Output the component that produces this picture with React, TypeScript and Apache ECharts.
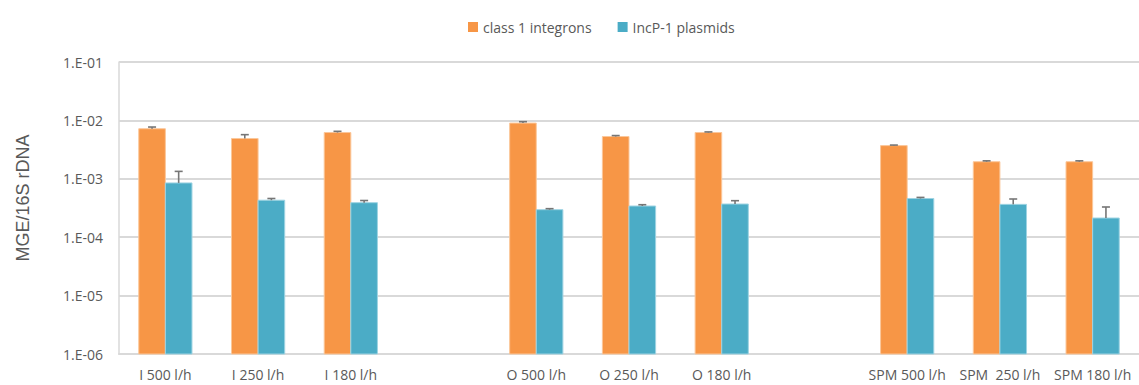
import React, { useEffect, useRef } from "react";
import * as echarts from "echarts";

const categories = ["I 500 l/h", "I 250 l/h", "I 180 l/h", "", "O 500 l/h", "O 250 l/h", "O 180 l/h", "", "SPM 500 l/h", "SPM  250 l/h", "SPM 180 l/h"];
const integrons: (number | null)[] = [7.2e-3, 4.9e-3, 6.2e-3, null, 9.0e-3, 5.3e-3, 6.2e-3, null, 3.7e-3, 1.96e-3, 1.96e-3];
const integronsErr: (number | null)[] = [0.5e-3, 0.8e-3, 0.3e-3, null, 0.5e-3, 0.2e-3, 0.15e-3, null, 0.08e-3, 0.07e-3, 0.07e-3];
const plasmids: (number | null)[] = [8.5e-4, 4.3e-4, 3.9e-4, null, 2.96e-4, 3.42e-4, 3.7e-4, null, 4.6e-4, 3.65e-4, 2.13e-4];
const plasmidsErr: (number | null)[] = [4.9e-4, 0.3e-4, 0.35e-4, null, 0.12e-4, 0.18e-4, 0.52e-4, null, 0.2e-4, 0.86e-4, 1.16e-4];

const seriesNames = ["class 1 integrons", "IncP-1 plasmids"];
const colors = ["#F79646", "#4BACC6"];
const borderColors = ["#FBC79A", "#9ED3E2"];
const CAT_GAP = 0.426;

function pts(vals: (number | null)[], errs: (number | null)[]) {
  const out: number[][] = [];
  vals.forEach((v, i) => {
    if (v != null) out.push([i, v, errs[i] == null ? 0 : (errs[i] as number)]);
  });
  return out;
}

function geom(params: any, api: any, sign: number) {
  const idx = api.value(0);
  const v = api.value(1);
  const cs = params.coordSys;
  const band = cs.width / categories.length;
  const bw = (band * (1 - CAT_GAP)) / 2;
  const p0 = api.coord([idx, v]);
  return { idx, v, cs, bw, p0, cx: p0[0] + (sign * bw) / 2 };
}

function makeBarRender(sign: number, k: number) {
  return (params: any, api: any) => {
    const g = geom(params, api, sign);
    const bottom = g.cs.y + g.cs.height;
    return {
      type: "rect",
      shape: { x: g.cx - g.bw / 2, y: g.p0[1], width: g.bw, height: bottom - g.p0[1] },
      style: { fill: colors[k], stroke: borderColors[k], lineWidth: 1 },
    };
  };
}

function makeErrRender(sign: number) {
  return (params: any, api: any) => {
    const g = geom(params, api, sign);
    const e = api.value(2);
    const p1 = api.coord([g.idx, g.v + e]);
    const x = g.cx;
    const style = { stroke: "#767676", lineWidth: 1.6 };
    return {
      type: "group",
      children: [
        { type: "line", shape: { x1: x, y1: g.p0[1], x2: x, y2: p1[1] }, style },
        { type: "line", shape: { x1: x - 4, y1: p1[1], x2: x + 4, y2: p1[1] }, style },
      ],
    };
  };
}

export default function App() {
  const ref = useRef<HTMLDivElement>(null);
  useEffect(() => {
    document.body.style.margin = "0";
    const chart = echarts.init(ref.current!, null, { renderer: "svg" });
    const font = "'Open Sans', 'Noto Sans', sans-serif";
    chart.setOption({
      animation: false,
      textStyle: { fontFamily: font },
      legend: {
        data: seriesNames.map((n) => ({ name: n, icon: "rect" })),
        left: 463,
        top: 15,
        itemWidth: 10,
        itemHeight: 10,
        itemGap: 26,
        textStyle: { color: "#595959", fontSize: 14, fontFamily: font },
      },
      grid: { left: 119, right: -2, top: 62, bottom: 31, containLabel: false },
      xAxis: {
        type: "category",
        data: categories,
        axisLine: { show: true, lineStyle: { color: "#d9d9d9", width: 2 } },
        axisTick: { show: false },
        axisLabel: { interval: 0, color: "#595959", fontSize: 14, margin: 12, lineHeight: 16, fontFamily: font },
        splitLine: { show: false },
      },
      yAxis: {
        type: "log",
        logBase: 10,
        min: 1e-6,
        max: 1e-1,
        axisLine: { show: true, lineStyle: { color: "#d9d9d9", width: 1.5 } },
        axisTick: { show: false },
        splitLine: { show: true, lineStyle: { color: "#d9d9d9", width: 1.8 } },
        axisLabel: {
          color: "#595959",
          fontSize: 14,
          margin: 16,
          fontFamily: font,
          formatter: (val: number) => {
            const e = Math.round(Math.log10(val));
            return "1.E" + (e < 0 ? "-" : "+") + String(Math.abs(e)).padStart(2, "0");
          },
        },
      },
      graphic: [
        {
          type: "text",
          x: 23,
          y: 198,
          rotation: Math.PI / 2,
          style: {
            text: "MGE/16S rDNA",
            fill: "#595959",
            font: "18px 'Liberation Sans', Arial, sans-serif",
            textAlign: "center",
            textVerticalAlign: "middle",
          },
        },
      ],
      series: [
        {
          name: seriesNames[0],
          type: "custom",
          data: pts(integrons, integronsErr),
          encode: { x: 0, y: 1 },
          itemStyle: { color: colors[0] },
          renderItem: makeBarRender(-1, 0),
          z: 2,
        },
        {
          name: seriesNames[1],
          type: "custom",
          data: pts(plasmids, plasmidsErr),
          encode: { x: 0, y: 1 },
          itemStyle: { color: colors[1] },
          renderItem: makeBarRender(1, 1),
          z: 2,
        },
        {
          name: "err1",
          type: "custom",
          data: pts(integrons, integronsErr),
          encode: { x: 0, y: 1 },
          renderItem: makeErrRender(-1),
          z: 5,
          silent: true,
        },
        {
          name: "err2",
          type: "custom",
          data: pts(plasmids, plasmidsErr),
          encode: { x: 0, y: 1 },
          renderItem: makeErrRender(1),
          z: 5,
          silent: true,
        },
      ],
    });
    return () => chart.dispose();
  }, []);
  return <div ref={ref} style={{ width: 1139, height: 385 }} />;
}
